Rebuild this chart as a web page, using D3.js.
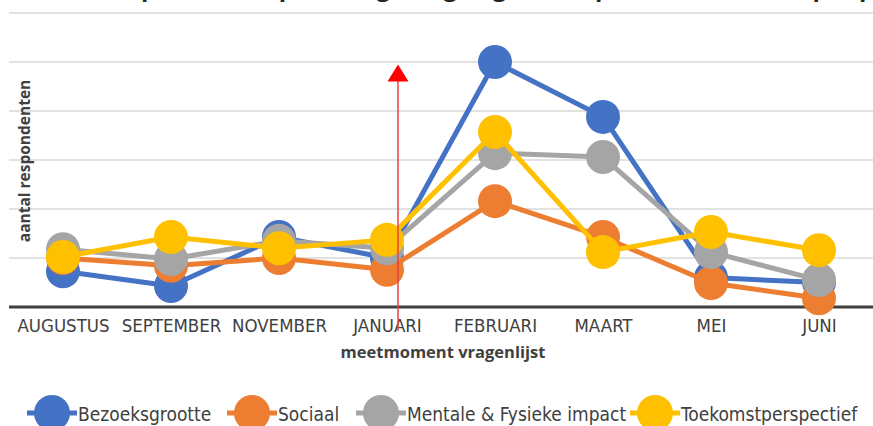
<!DOCTYPE html>
<html>
<head>
<meta charset="utf-8">
<script src="https://cdn.jsdelivr.net/npm/d3@7"></script>
<style>
  body { margin: 0; background: #fff; }
  svg { display: block; }
  .lbl { font-family: "Liberation Sans Narrow", "DejaVu Sans Condensed", "Open Sans", sans-serif; fill: #404040; }
  .ttl { font-family: "Open Sans", "Noto Sans", sans-serif; font-weight: bold; fill: #262626; }
</style>
</head>
<body>
<svg id="chart"></svg>
<script>
const months = ["AUGUSTUS", "SEPTEMBER", "NOVEMBER", "JANUARI", "FEBRUARI", "MAART", "MEI", "JUNI"];
const seriesNames = ["Bezoeksgrootte", "Sociaal", "Mentale & Fysieke impact", "Toekomstperspectief"];
const bezoeksgrootte = [0.73, 0.43, 1.43, 1.0, 5.0, 3.88, 0.6, 0.5];
const sociaal = [1.0, 0.84, 1.0, 0.76, 2.16, 1.43, 0.49, 0.18];
const mentaal = [1.18, 0.98, 1.35, 1.2, 3.14, 3.06, 1.12, 0.55];
const toekomst = [1.02, 1.43, 1.2, 1.37, 3.57, 1.12, 1.53, 1.16];
const yTicks = [0, 1, 2, 3, 4, 5, 6];
const arrowMonth = "JANUARI", arrowTop = 4.95;

const colors = ["#4472c4", "#ed7d31", "#a5a5a5", "#ffc000"];
const allSeries = [bezoeksgrootte, sociaal, mentaal, toekomst];

const width = 873, height = 426;
const margin = { top: 13, right: 0, bottom: 119, left: 9 };

const svg = d3.select("#chart").attr("width", width).attr("height", height);

const x = d3.scalePoint().domain(months).range([margin.left, width - margin.right]).padding(0.5);
const y = d3.scaleLinear().domain([0, 6]).range([height - margin.bottom, margin.top]);

// title, cut off at the top just like the source image
svg.append("text").attr("class", "ttl")
  .attr("x", 470).attr("y", -4).attr("text-anchor", "middle")
  .style("font-size", "24px")
  .text("Aantal respondenten per categorie gelegenheid per meetmoment per pijler");

// gridlines
svg.append("g")
  .selectAll("line")
  .data(yTicks.slice(1))
  .enter().append("line")
    .attr("x1", margin.left).attr("x2", width)
    .attr("y1", d => y(d)).attr("y2", d => y(d))
    .attr("stroke", "#d9d9d9").attr("stroke-width", 1.5);

// x axis
const gx = svg.append("g")
  .attr("transform", "translate(0," + y(0) + ")")
  .call(d3.axisBottom(x).tickSize(0).tickPadding(12));
gx.select(".domain").attr("d", "M" + margin.left + ",0H" + width).attr("stroke", "#404040").attr("stroke-width", 3);
gx.selectAll("text").attr("class", "lbl").style("font-size", "18.5px").attr("font-family", null);

svg.append("text").attr("class", "ttl")
  .attr("x", 443).attr("y", 358).attr("text-anchor", "middle")
  .style("font-size", "16.5px").style("fill", "#404040")
  .text("meetmoment vragenlijst");

svg.append("text").attr("class", "ttl")
  .attr("transform", "translate(30," + (y(3) + 1) + ") rotate(-90)")
  .attr("text-anchor", "middle")
  .style("font-size", "15.5px").style("fill", "#404040")
  .text("aantal respondenten");

// series
const line = d3.line().x((d, i) => x(months[i])).y(d => y(d));
allSeries.forEach((vals, k) => {
  const g = svg.append("g");
  g.append("path").datum(vals)
    .attr("d", line)
    .attr("fill", "none").attr("stroke", colors[k]).attr("stroke-width", 5)
    .attr("stroke-linejoin", "round");
  g.selectAll("circle").data(vals).enter().append("circle")
    .attr("cx", (d, i) => x(months[i])).attr("cy", d => y(d))
    .attr("r", 17).attr("fill", colors[k]);
});

// red arrow
const ax = x(arrowMonth) + 11;
svg.append("line")
  .attr("x1", ax).attr("x2", ax)
  .attr("y1", y(arrowTop) + 14).attr("y2", y(0) + 24)
  .attr("stroke", "#e8403f").attr("stroke-width", 1.5);
svg.append("path")
  .attr("d", "M" + ax + "," + y(arrowTop) + "l-10.5,17h21z")
  .attr("fill", "#ff0000");

// legend
const legX = [52, 252, 381, 655];
const legend = svg.append("g").selectAll("g")
  .data(seriesNames).enter().append("g")
  .attr("transform", (d, i) => "translate(" + legX[i] + ",413)");
legend.append("line").attr("x1", -25).attr("x2", 25)
  .attr("stroke", (d, i) => colors[i]).attr("stroke-width", 5);
legend.append("circle").attr("r", 18).attr("fill", (d, i) => colors[i]);
legend.append("text").attr("class", "lbl")
  .attr("x", 26).attr("y", 8)
  .style("font-size", "19px")
  .text(d => d);
</script>
</body>
</html>
